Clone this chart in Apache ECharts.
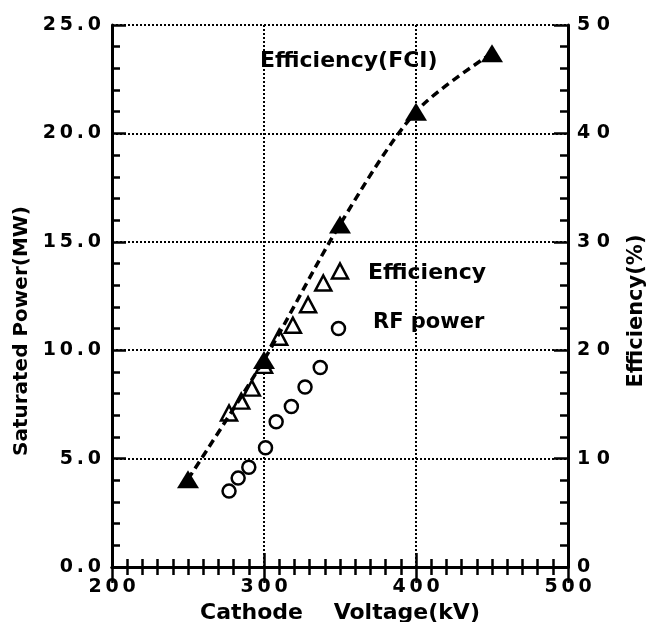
<!DOCTYPE html>
<html>
<head>
<meta charset="utf-8">
<script src="https://cdn.jsdelivr.net/npm/echarts@6/dist/echarts.min.js"></script>
<style>
html,body{margin:0;padding:0;background:#fff;}
#chart{width:648px;height:622px;}
</style>
</head>
<body>
<div id="chart"></div>
<script>
// Efficiency (FCI): filled triangles + dashed curve, right axis (%)
const fciVoltage = [250, 300, 350, 400, 450];
const fciEfficiency = [8.1, 19.1, 31.6, 42.0, 47.4];
// Efficiency: open triangles, right axis (%)
const effVoltage = [277, 285, 292, 300, 310, 319, 329, 339, 350];
const efficiency = [14.2, 15.3, 16.5, 18.6, 21.2, 22.3, 24.2, 26.2, 27.3];
// RF power: open circles, left axis (MW)
const rfVoltage = [277, 283, 290, 301, 308, 318, 327, 337, 349];
const rfPower = [3.5, 4.1, 4.6, 5.5, 6.7, 7.4, 8.3, 9.2, 11.0];

const xTicks = [200, 300, 400, 500];
const leftTicks = [0, 5, 10, 15, 20, 25];
const rightTicks = [0, 10, 20, 30, 40, 50];

const FONT = '"DejaVu Sans", sans-serif';
const pair = (xs, ys) => xs.map((x, i) => [x, ys[i]]);
const spaced = (s, sep) => String(s).split('').join(sep);

const axisLineStyle = { color: '#000', width: 3 };
const tickStyle = { color: '#000', width: 2.5 };
const gridDots = { color: '#000', width: 2, type: [2, 2] };
const labelStyle = { color: '#000', fontFamily: FONT, fontWeight: 'bold', fontSize: 19 };
const nameStyle = { color: '#000', fontFamily: FONT, fontWeight: 'bold' };

const chart = echarts.init(document.getElementById('chart'), null, { renderer: 'canvas' });
chart.setOption({
  animation: false,
  backgroundColor: '#fff',
  grid: { left: 112, right: 80, top: 25, bottom: 55, containLabel: false, outerBoundsMode: 'none' },
  xAxis: [
    {
      type: 'value', position: 'bottom',
      min: xTicks[0], max: xTicks[xTicks.length - 1], interval: 100,
      axisLine: { show: true, lineStyle: axisLineStyle },
      axisTick: { show: true, inside: true, length: 14, lineStyle: tickStyle },
      minorTick: { show: true, splitNumber: 10, length: 8, lineStyle: tickStyle },
      splitLine: { show: true, lineStyle: gridDots },
      axisLabel: Object.assign({ margin: 11, formatter: v => spaced(v, '\u2009') }, labelStyle),
      name: 'Cathode    Voltage(kV)', nameLocation: 'middle', nameGap: 29,
      nameTextStyle: Object.assign({ fontSize: 22 }, nameStyle)
    },
    {
      type: 'value', position: 'top',
      min: xTicks[0], max: xTicks[xTicks.length - 1], interval: 100,
      axisLine: { show: true, lineStyle: axisLineStyle },
      axisTick: { show: true, inside: true, length: 16, lineStyle: tickStyle },
      minorTick: { show: true, splitNumber: 10, length: 8, lineStyle: tickStyle },
      splitLine: { show: false },
      axisLabel: { show: false }
    }
  ],
  yAxis: [
    {
      type: 'value', position: 'left',
      min: leftTicks[0], max: leftTicks[leftTicks.length - 1], interval: 5,
      axisLine: { show: true, lineStyle: axisLineStyle },
      axisTick: { show: true, inside: true, length: 14, lineStyle: tickStyle },
      minorTick: { show: true, splitNumber: 5, length: 8, lineStyle: tickStyle },
      splitLine: { show: true, lineStyle: gridDots },
      axisLabel: Object.assign({ margin: 11, formatter: v => spaced(v.toFixed(1), '\u2009') }, labelStyle),
      name: 'Saturated Power(MW)', nameLocation: 'middle', nameGap: 79, nameRotate: 90,
      nameTextStyle: Object.assign({ fontSize: 20, padding: [0, 70, 0, 0] }, nameStyle)
    },
    {
      type: 'value', position: 'right',
      min: rightTicks[0], max: rightTicks[rightTicks.length - 1], interval: 10,
      axisLine: { show: true, lineStyle: axisLineStyle },
      axisTick: { show: true, inside: true, length: 14, lineStyle: tickStyle },
      minorTick: { show: true, splitNumber: 5, length: 8, lineStyle: tickStyle },
      splitLine: { show: false },
      axisLabel: Object.assign({ margin: 9, formatter: v => spaced(v, ' ') }, labelStyle),
      name: 'Efficiency(%)', nameLocation: 'middle', nameGap: 58, nameRotate: 90,
      nameTextStyle: Object.assign({ fontSize: 21, padding: [0, 30, 0, 0] }, nameStyle)
    }
  ],
  series: [
    {
      name: 'Efficiency(FCI)', type: 'line', xAxisIndex: 0, yAxisIndex: 1,
      data: pair(fciVoltage, fciEfficiency),
      smooth: 0.3,
      lineStyle: { color: '#000', width: 3.5, type: [8, 5] },
      symbol: 'triangle', symbolSize: [22, 18],
      itemStyle: { color: '#000', borderWidth: 0 },
      z: 3
    },
    {
      name: 'Efficiency', type: 'scatter', xAxisIndex: 0, yAxisIndex: 1,
      data: pair(effVoltage, efficiency),
      symbol: 'triangle', symbolSize: [16, 15],
      itemStyle: { color: '#fff', borderColor: '#000', borderWidth: 2.5, opacity: 1 },
      z: 2
    },
    {
      name: 'RF power', type: 'scatter', xAxisIndex: 0, yAxisIndex: 0,
      data: pair(rfVoltage, rfPower),
      symbol: 'circle', symbolSize: 13,
      itemStyle: { color: '#fff', borderColor: '#000', borderWidth: 2.5, opacity: 1 },
      z: 2
    }
  ],
  graphic: [
    { type: 'text', x: 260, y: 61, z: 10,
      style: { text: 'Efficiency(FCI)', font: 'bold 22px ' + FONT, fill: '#000', verticalAlign: 'middle' } },
    { type: 'text', x: 368, y: 273, z: 10,
      style: { text: 'Efficiency', font: 'bold 22px ' + FONT, fill: '#000', verticalAlign: 'middle' } },
    { type: 'text', x: 373, y: 323, z: 10,
      style: { text: 'RF power', font: 'bold 21px ' + FONT, fill: '#000', verticalAlign: 'middle' } }
  ]
});
</script>
</body>
</html>
